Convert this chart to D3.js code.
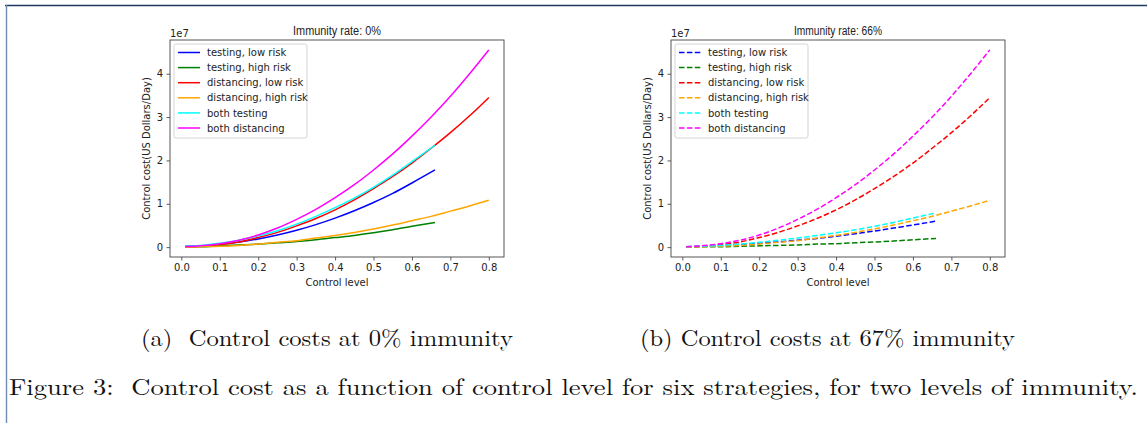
<!DOCTYPE html>
<html>
<head>
<meta charset="utf-8">
<script src="https://cdn.jsdelivr.net/npm/d3@7"></script>
<style>
  html, body { margin: 0; padding: 0; background: #fff; }
  svg { display: block; }
  .tick text { font-family: "DejaVu Sans", sans-serif; font-size: 10px; fill: #222; }
</style>
</head>
<body>
<svg id="fig" width="1147" height="423"></svg>
<script>
// Control level grids (testing strategies stop at 0.66, distancing at 0.8)
const levelsTesting = [0.01, 0.05, 0.10, 0.15, 0.20, 0.25, 0.30, 0.35, 0.40, 0.45, 0.50, 0.55, 0.60, 0.66];
const levelsDistancing = [0.01, 0.05, 0.10, 0.15, 0.20, 0.25, 0.30, 0.35, 0.40, 0.45, 0.50, 0.55, 0.60, 0.65, 0.70, 0.75, 0.80];

// Daily control cost, in units of 1e7 US dollars — immunity 0%
const testingLow0   = [0.02, 0.03, 0.07, 0.12, 0.19, 0.28, 0.39, 0.52, 0.67, 0.84, 1.03, 1.24, 1.48, 1.78];
const testingHigh0  = [0.01, 0.01, 0.03, 0.05, 0.07, 0.10, 0.13, 0.17, 0.22, 0.27, 0.33, 0.40, 0.48, 0.57];
const distLow0      = [0.00, 0.02, 0.06, 0.12, 0.22, 0.34, 0.49, 0.66, 0.86, 1.09, 1.35, 1.63, 1.94, 2.28, 2.64, 3.03, 3.45];
const distHigh0     = [0.00, 0.01, 0.02, 0.04, 0.07, 0.11, 0.15, 0.21, 0.27, 0.34, 0.42, 0.51, 0.61, 0.71, 0.83, 0.95, 1.08];
const bothTesting0  = [0.02, 0.04, 0.09, 0.16, 0.26, 0.38, 0.53, 0.71, 0.91, 1.13, 1.38, 1.66, 1.97, 2.35];
const bothDist0     = [0.01, 0.03, 0.08, 0.16, 0.28, 0.44, 0.64, 0.87, 1.14, 1.44, 1.78, 2.15, 2.56, 3.00, 3.48, 4.00, 4.55];

// Daily control cost, in units of 1e7 US dollars — immunity 66%
const testingLow66  = [0.01, 0.02, 0.04, 0.06, 0.09, 0.12, 0.16, 0.20, 0.25, 0.31, 0.37, 0.44, 0.51, 0.60];
const testingHigh66 = [0.00, 0.01, 0.01, 0.02, 0.03, 0.04, 0.05, 0.07, 0.08, 0.10, 0.12, 0.14, 0.17, 0.20];
const distLow66     = [0.00, 0.02, 0.06, 0.12, 0.22, 0.34, 0.49, 0.66, 0.86, 1.09, 1.35, 1.63, 1.94, 2.28, 2.64, 3.03, 3.45];
const distHigh66    = [0.00, 0.01, 0.02, 0.04, 0.07, 0.11, 0.15, 0.21, 0.27, 0.34, 0.42, 0.51, 0.61, 0.71, 0.83, 0.95, 1.08];
const bothTesting66 = [0.01, 0.02, 0.04, 0.07, 0.11, 0.16, 0.21, 0.27, 0.33, 0.40, 0.48, 0.57, 0.67, 0.79];
const bothDist66    = [0.01, 0.03, 0.08, 0.16, 0.28, 0.44, 0.64, 0.87, 1.14, 1.44, 1.78, 2.15, 2.56, 3.00, 3.48, 4.00, 4.55];

const seriesNames  = ["testing, low risk", "testing, high risk", "distancing, low risk", "distancing, high risk", "both testing", "both distancing"];
const seriesColors = ["#0000ff", "#008000", "#ff0000", "#ffa500", "#00ffff", "#ff00ff"];
const xTicks = [0.0, 0.1, 0.2, 0.3, 0.4, 0.5, 0.6, 0.7, 0.8];
const yTicks = [0, 1, 2, 3, 4];
const panelTitles = ["Immunity rate: 0%", "Immunity rate: 66%"];
const subCaptions = ["(a)  Control costs at 0% immunity", "(b) Control costs at 67% immunity"];
const figureCaption = "Figure 3:  Control cost as a function of control level for six strategies, for two levels of immunity.";

const svg = d3.select("#fig");

// page frame: dark rule along the top, lighter rule on the left
svg.append("line").attr("x1", 5).attr("x2", 1147).attr("y1", 5.5).attr("y2", 5.5)
  .attr("stroke", "#1d3a5e").attr("stroke-width", 1.6);
svg.append("line").attr("x1", 6.5).attr("x2", 6.5).attr("y1", 5).attr("y2", 423)
  .attr("stroke", "#6f8db3").attr("stroke-width", 1.4);

function buildSeries(sets) {
  const xsets = [levelsTesting, levelsTesting, levelsDistancing, levelsDistancing, levelsTesting, levelsDistancing];
  return sets.map((vals, i) => ({
    name: seriesNames[i],
    color: seriesColors[i],
    points: vals.map((v, j) => [xsets[i][j], v])
  }));
}

function drawPanel(left, title, series, dashed) {
  const frame = { x0: left, x1: left + 334, y0: 40, y1: 257 };
  const g = svg.append("g");

  const x = d3.scaleLinear().domain([-0.0295, 0.8395]).range([frame.x0, frame.x1]);
  const y = d3.scaleLinear().domain([-0.2275, 4.7775]).range([frame.y1, frame.y0]);

  // curves
  const line = d3.line().x(d => x(d[0])).y(d => y(d[1])).curve(d3.curveMonotoneX);
  const curves = g.append("g");
  series.forEach(s => {
    curves.append("path")
      .attr("d", line(s.points))
      .attr("fill", "none")
      .attr("stroke", s.color)
      .attr("stroke-width", 1.5)
      .attr("stroke-dasharray", dashed ? "5.5,2.4" : null);
  });

  // axes
  const xAxis = d3.axisBottom(x).tickValues(xTicks).tickFormat(d3.format(".1f"))
    .tickSize(3.5).tickPadding(3.5);
  const yAxis = d3.axisLeft(y).tickValues(yTicks).tickFormat(d3.format("d"))
    .tickSize(3.5).tickPadding(3.5);
  const gx = g.append("g").attr("transform", `translate(0,${frame.y1})`).call(xAxis);
  const gy = g.append("g").attr("transform", `translate(${frame.x0},0)`).call(yAxis);
  [gx, gy].forEach(a => {
    a.select(".domain").remove();
    a.selectAll(".tick line").attr("stroke", "#333").attr("stroke-width", 0.8);
  });

  // axes frame
  g.append("rect")
    .attr("x", frame.x0).attr("y", frame.y0)
    .attr("width", frame.x1 - frame.x0).attr("height", frame.y1 - frame.y0)
    .attr("fill", "none").attr("stroke", "#444").attr("stroke-width", 0.9);

  // offset label for the y axis
  g.append("text").attr("x", frame.x0).attr("y", 37)
    .attr("font-family", "DejaVu Sans, sans-serif").attr("font-size", 10).attr("fill", "#222")
    .text("1e7");

  // title
  g.append("text").attr("x", (frame.x0 + frame.x1) / 2).attr("y", 34.5)
    .attr("text-anchor", "middle")
    .attr("font-family", "Liberation Sans, Arial, sans-serif").attr("font-size", 12)
    .attr("textLength", 88).attr("lengthAdjust", "spacingAndGlyphs")
    .attr("fill", "#222")
    .text(title);

  // axis labels
  g.append("text").attr("x", (frame.x0 + frame.x1) / 2).attr("y", 286)
    .attr("text-anchor", "middle")
    .attr("font-family", "DejaVu Sans, sans-serif").attr("font-size", 10).attr("fill", "#222")
    .text("Control level");
  g.append("text")
    .attr("transform", `translate(${frame.x0 - 20},${(frame.y0 + frame.y1) / 2}) rotate(-90)`)
    .attr("text-anchor", "middle")
    .attr("font-family", "DejaVu Sans, sans-serif").attr("font-size", 10).attr("fill", "#222")
    .text("Control cost(US Dollars/Day)");

  // legend
  const lg = g.append("g").attr("transform", `translate(${frame.x0 + 4},${frame.y0 + 4})`);
  lg.append("rect").attr("width", 133).attr("height", 94).attr("rx", 2)
    .attr("fill", "#fff").attr("fill-opacity", 0.8)
    .attr("stroke", "#d0d0d0").attr("stroke-width", 0.9);
  series.forEach((s, i) => {
    const yy = 8.5 + i * 15.1;
    lg.append("line").attr("x1", 4).attr("x2", 26).attr("y1", yy).attr("y2", yy)
      .attr("stroke", s.color).attr("stroke-width", 1.5)
      .attr("stroke-dasharray", dashed ? "5.5,2.4" : null);
    lg.append("text").attr("x", 33).attr("y", yy + 3.6)
      .attr("font-family", "DejaVu Sans, sans-serif").attr("font-size", 10).attr("fill", "#222")
      .text(s.name);
  });
}

drawPanel(170, panelTitles[0],
  buildSeries([testingLow0, testingHigh0, distLow0, distHigh0, bothTesting0, bothDist0]), false);
drawPanel(671, panelTitles[1],
  buildSeries([testingLow66, testingHigh66, distLow66, distHigh66, bothTesting66, bothDist66]), true);

// sub-figure captions and figure caption
const serif = "Latin Modern Roman, CMU Serif, Liberation Serif, Times New Roman, serif";
[[141, 372], [640, 375]].forEach((pos, i) => {
  svg.append("text").attr("x", pos[0]).attr("y", 346)
    .attr("font-family", serif).attr("font-size", 23).attr("fill", "#111")
    .attr("textLength", pos[1]).attr("lengthAdjust", "spacingAndGlyphs")
    .style("white-space", "pre")
    .text(subCaptions[i]);
});
svg.append("text").attr("x", 9).attr("y", 395)
  .attr("font-family", serif).attr("font-size", 23).attr("fill", "#111")
  .attr("textLength", 1129).attr("lengthAdjust", "spacingAndGlyphs")
  .style("white-space", "pre")
  .text(figureCaption);
</script>
</body>
</html>
